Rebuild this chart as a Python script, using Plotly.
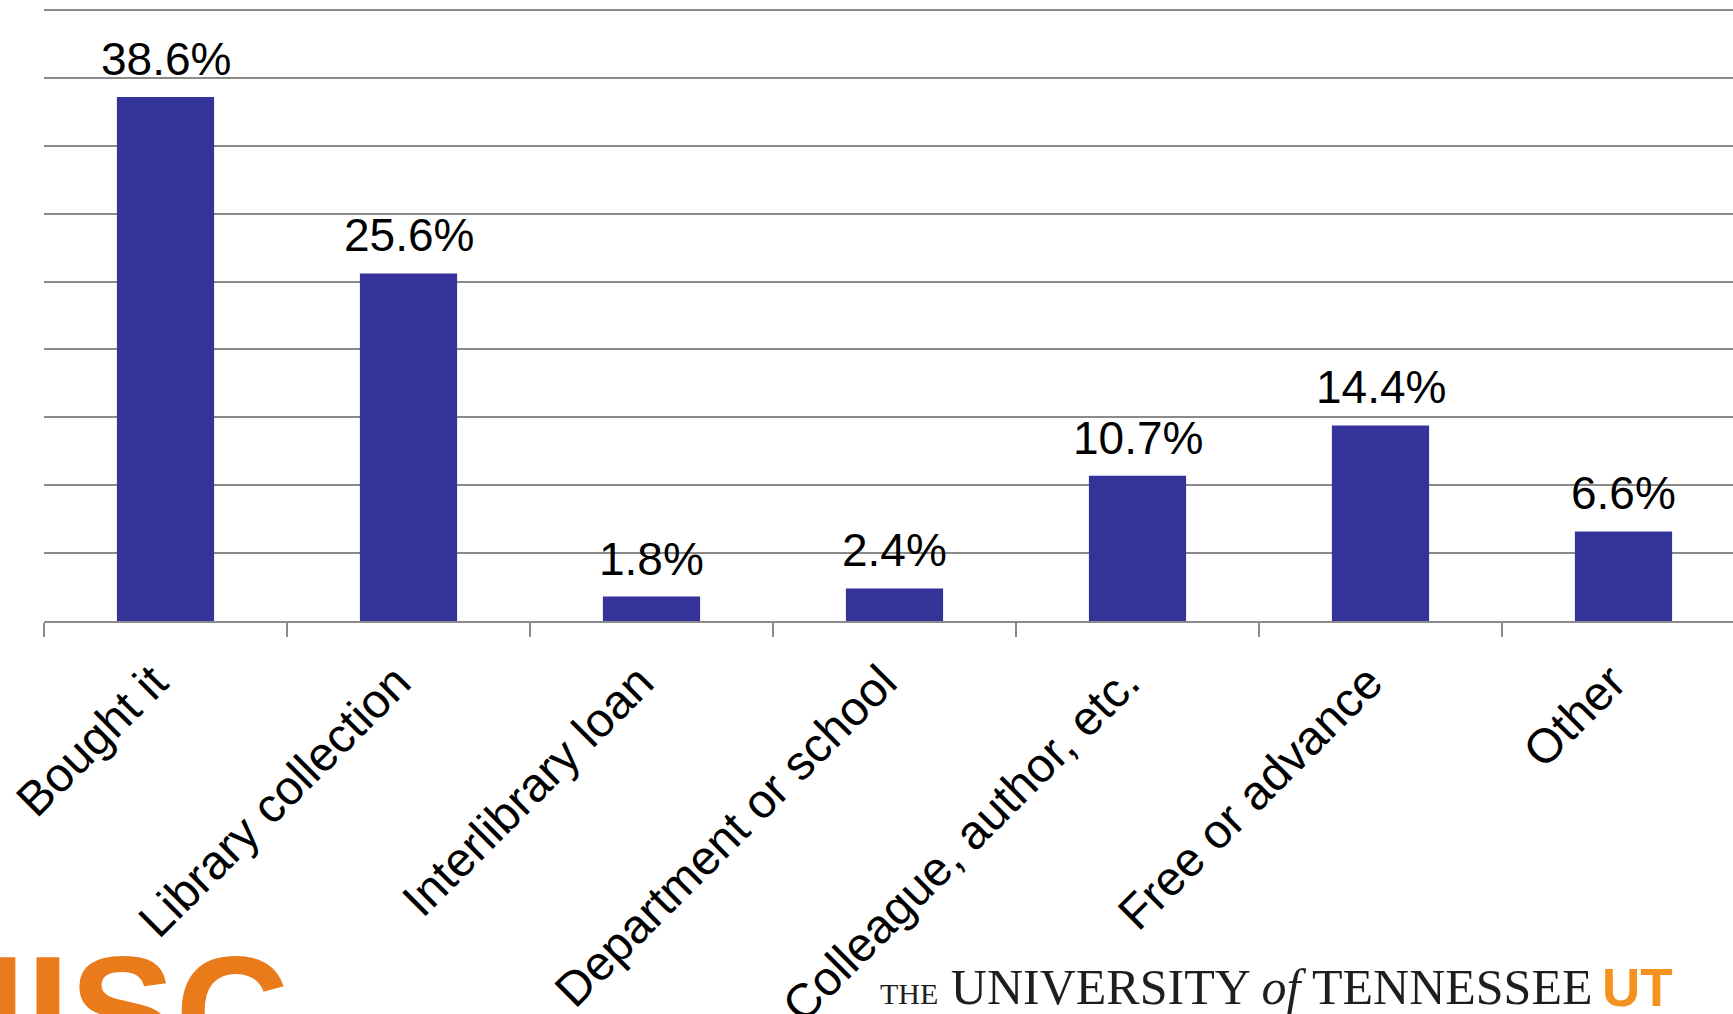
import plotly.graph_objects as go

# Survey: how respondents obtained the book
categories = [
    "Bought it",
    "Library collection",
    "Interlibrary loan",
    "Department or school",
    "Colleague, author, etc.",
    "Free or advance",
    "Other",
]
shares = [38.6, 25.6, 1.8, 2.4, 10.7, 14.4, 6.6]
value_labels = [f"{v:.1f}%" for v in shares]

W, H = 1733, 1014
M_L, M_R, M_T, M_B = 44, 0, 9, 393
Y_TOP = 45.075          # a hair above 45 so the top gridline is drawn
GRID = "#8a8a8a"
BAR = "#333399"
SANS = "Liberation Sans, Arial, sans-serif"
SERIF = "Liberation Serif, Times New Roman, serif"

fig = go.Figure(
    go.Bar(
        x=categories,
        y=shares,
        width=0.4,
        marker=dict(color=BAR, line=dict(width=0)),
        hoverinfo="skip",
    )
)

# value labels sitting just above each bar
for cat, v, lab in zip(categories, shares, value_labels):
    fig.add_annotation(
        x=cat, y=v, xref="x", yref="y", text=lab, showarrow=False,
        xanchor="center", yanchor="bottom", yshift=10,
        font=dict(family=SANS, size=46, color="black"),
    )

# pixel helper: offsets relative to the bottom-left corner of the plot area
def px_shift(xp, yp):
    return dict(x=0, y=0, xref="paper", yref="paper",
                xshift=xp - M_L, yshift=(H - M_B) - yp)

# orange wordmark along the bottom-left edge
fig.add_annotation(
    **px_shift(-20, 1101), text="IISC", showarrow=False,
    xanchor="left", yanchor="bottom",
    font=dict(family=SANS, size=158, color="#E97B1A", weight="bold"),
)

# university wordmark at the bottom right
fig.add_annotation(
    **px_shift(878, 1017),
    text='<span style="font-size:30px">THE</span> UNIVERSITY <i>of</i> TENNESSEE',
    showarrow=False, xanchor="left", yanchor="bottom",
    font=dict(family=SERIF, size=50, color="#1e1e1e"),
)
fig.add_annotation(
    **px_shift(1600, 1019), text="UT", showarrow=False,
    xanchor="left", yanchor="bottom",
    font=dict(family=SANS, size=53, color="#F5921F", weight="bold"),
)

n = len(categories)
cat_px = 243.0
x_max = -0.5 + (W - M_L - M_R) / cat_px

fig.update_layout(
    width=W, height=H,
    margin=dict(l=M_L, r=M_R, t=M_T, b=M_B, pad=0, autoexpand=False),
    paper_bgcolor="white", plot_bgcolor="white",
    showlegend=False,
    xaxis=dict(
        type="category",
        automargin=False,
        range=[-0.5, x_max],
        tickangle=-45,
        tickfont=dict(family=SANS, size=48, color="black"),
        ticklabelshift=-12,
        ticklabelstandoff=12,
        ticks="outside", tickson="boundaries",
        ticklen=14, tickwidth=1.5, tickcolor=GRID,
        showline=True, linecolor=GRID, linewidth=1.5,
        showgrid=False, zeroline=False,
    ),
    yaxis=dict(
        automargin=False,
        range=[0, Y_TOP], dtick=5, tick0=0,
        showticklabels=False, ticks="",
        showgrid=True, gridcolor=GRID, gridwidth=1.5,
        showline=False, zeroline=False,
    ),
)

fig.write_html("out.html")
